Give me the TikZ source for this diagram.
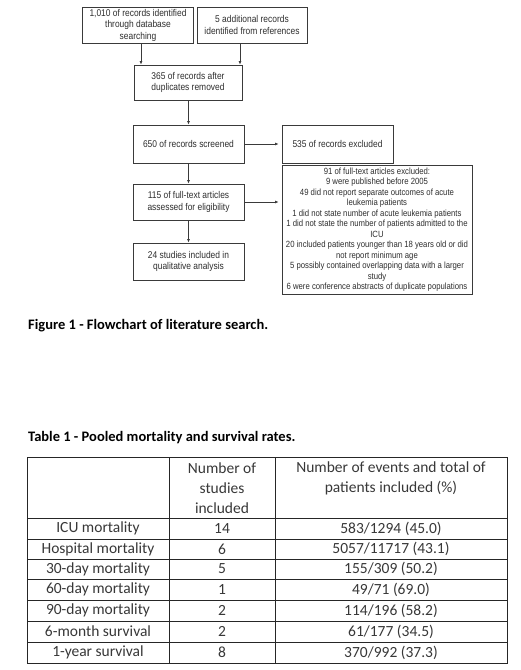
\documentclass[tikz,border=0pt]{standalone}
\usepackage{fontspec}
\setmainfont{Carlito}
\newfontfamily\flowfont[FakeStretch=0.86]{Liberation Sans}
\usetikzlibrary{arrows.meta}
\definecolor{boxline}{HTML}{3A3A3A}
\definecolor{flowtext}{HTML}{2E2E2E}
\definecolor{tabtext}{HTML}{383838}
\tikzset{
  fbox/.style={draw=boxline, line width=0.9pt, inner sep=0pt, align=center,
    font=\flowfont\fontsize{9.8}{11.5}\selectfont, text=flowtext},
  arr/.style={draw=boxline, line width=0.9pt, -{Latex[length=3.5pt,width=3pt]}},
  cell/.style={font=\fontsize{15.5}{20}\selectfont, text=tabtext, align=center, inner sep=0pt},
  tline/.style={draw=black!85, line width=0.9pt},
  captext/.style={font=\bfseries\fontsize{14.5}{17}\selectfont, anchor=west, inner sep=0pt, text=black}
}
\begin{document}
\begin{tikzpicture}[x=1pt,y=-1pt]
\useasboundingbox (0,0) rectangle (520,670);
\fill[white] (0,0) rectangle (520,670);
% flowchart boxes
\node[fbox, minimum width=111pt, minimum height=36pt] (b1) at (138,25) {1,010 of records identified\\through database\\searching};
\node[fbox, minimum width=110pt, minimum height=36pt] (b2) at (252,25) {5 additional records\\identified from references};
\node[fbox, minimum width=108pt, minimum height=35pt] (b3) at (188,82.5) {365 of records after\\duplicates removed};
\node[fbox, minimum width=111pt, minimum height=38pt] (b4) at (188.5,144) {650 of records screened};
\node[fbox, minimum width=111pt, minimum height=38pt] (b5) at (337.5,144) {535 of records excluded};
\node[fbox, minimum width=190pt, minimum height=129pt, font=\flowfont\fontsize{9.0}{10.5}\selectfont] (b6) at (377,229.5) {91 of full-text articles excluded:\\9 were published before 2005\\49 did not report separate outcomes of acute\\leukemia patients\\1 did not state number of acute leukemia patients\\1 did not state the number of patients admitted to the\\ICU\\20 included patients younger than 18 years old or did\\not report minimum age\\5 possibly contained overlapping data with a larger\\study\\6 were conference abstracts of duplicate populations};
\node[fbox, minimum width=111pt, minimum height=36pt] (b7) at (188.5,202) {115 of full-text articles\\assessed for eligibility};
\node[fbox, minimum width=111pt, minimum height=37pt] (b8) at (188.5,261.5) {24 studies included in\\qualitative analysis};
% connectors
\draw[arr] ([xshift=3pt]b1.south) -- ([xshift=3pt]b1.south |- b3.north);
\draw[arr] ([xshift=-12pt]b2.south) -- ([xshift=-12pt]b2.south |- b3.north);
\draw[arr] (b3.south -| b4.north) -- (b4.north);
\draw[arr] (b4.south) -- (b7.north);
\draw[arr] (b7.south) -- (b8.north);
\draw[arr, shorten >=3pt] (b4.east) -- (b5.west);
\draw[arr, shorten >=3pt] (b7.east) -- (b7.east -| b6.west);
% captions
\node[captext] (figcap) at (28,326) {Figure 1 - Flowchart of literature search.};
\node[captext] (tabcap) at (28,437.5) {Table 1 - Pooled mortality and survival rates.};
% table grid
\draw[tline] (27,457) rectangle (507,663);
\foreach \yy in {518,539,559,579,600,621,642} \draw[tline] (27,\yy) -- (507,\yy);
\draw[tline] (169,457) -- (169,663);
\draw[tline] (275,457) -- (275,663);
% table header
\node[cell] (h2) at (222,488) {Number of\\studies\\included};
\node[cell] (h3) at (391,478) {Number of events and total of\\patients included (\%)};
% table rows
\node[cell] (r1a) at (98,528.5) {ICU mortality};
\node[cell] (r1b) at (222,528.5) {14};
\node[cell] (r1c) at (391,528.5) {583/1294 (45.0)};
\node[cell] (r2a) at (98,549) {Hospital mortality};
\node[cell] (r2b) at (222,549) {6};
\node[cell] (r2c) at (391,549) {5057/11717 (43.1)};
\node[cell] (r3a) at (98,569) {30-day mortality};
\node[cell] (r3b) at (222,569) {5};
\node[cell] (r3c) at (391,569) {155/309 (50.2)};
\node[cell] (r4a) at (98,589.5) {60-day mortality};
\node[cell] (r4b) at (222,589.5) {1};
\node[cell] (r4c) at (391,589.5) {49/71 (69.0)};
\node[cell] (r5a) at (98,610.5) {90-day mortality};
\node[cell] (r5b) at (222,610.5) {2};
\node[cell] (r5c) at (391,610.5) {114/196 (58.2)};
\node[cell] (r6a) at (98,631.5) {6-month survival};
\node[cell] (r6b) at (222,631.5) {2};
\node[cell] (r6c) at (391,631.5) {61/177 (34.5)};
\node[cell] (r7a) at (98,652.5) {1-year survival};
\node[cell] (r7b) at (222,652.5) {8};
\node[cell] (r7c) at (391,652.5) {370/992 (37.3)};
\end{tikzpicture}
\end{document}
